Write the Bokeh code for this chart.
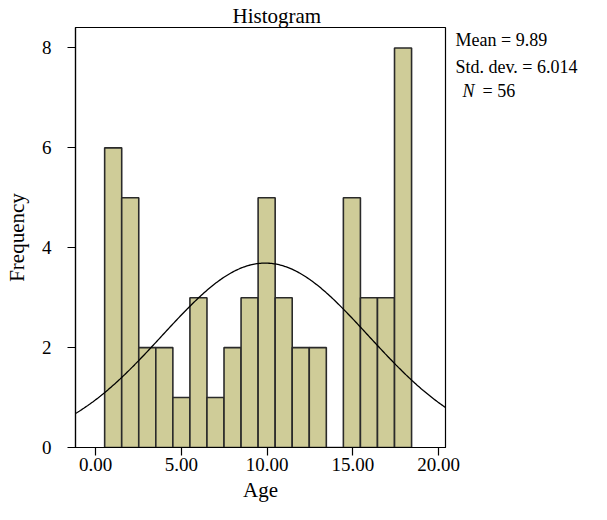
import math
from bokeh.plotting import figure
from bokeh.layouts import row
from bokeh.models import Range1d, FixedTicker, ColumnDataSource
from bokeh.core.properties import value
from bokeh.embed import file_html
from bokeh.resources import INLINE

# Data
bin_start = 0.53
bin_width = 0.994
counts = [6, 5, 2, 2, 1, 3, 1, 2, 3, 5, 3, 2, 2, 0, 5, 3, 3, 8]
mean_age = 9.89
sd_age = 6.014
n_total = 56
x_ticks = [0, 5, 10, 15, 20]
y_ticks = [0, 2, 4, 6, 8]
stat_texts = ["Mean = 9.89", "Std. dev. = 6.014", "= 56"]
stat_italic = ["N"]

FONT = "Liberation Serif"
H = 504
W_MAIN = 465
W_SIDE = 126
OVERLAP = 12
B_TOP, B_BOTTOM = 27, 56
FRAME_H = H - B_TOP - B_BOTTOM

lefts = [bin_start + i * bin_width for i in range(len(counts))]
rights = [l + bin_width for l in lefts]
src = ColumnDataSource(dict(left=lefts, right=rights, top=counts, bottom=[0] * len(counts)))

p = figure(width=W_MAIN, height=H, output_backend="svg", toolbar_location=None,
           x_range=Range1d(-1.17, 20.4), y_range=Range1d(0, 8.41),
           min_border_left=75, min_border_right=W_MAIN - 445, min_border_top=B_TOP,
           min_border_bottom=B_BOTTOM)

p.title.text = "Histogram"
p.title.align = "left"
p.title.text_font = FONT
p.title.text_font_size = "21px"
p.title.text_font_style = "normal"
p.title.text_color = "black"
p.title.standoff = 0
p.title.offset = 157

p.quad(left="left", right="right", top="top", bottom="bottom", source=src,
       fill_color="#CFCC98", line_color="#2a2a2a", line_width=1.6)

# Normal curve from the stated mean, sd and N (scaled by bin width)
xs = [-1.17 + i * (21.57 / 300) for i in range(301)]
ys = [n_total * bin_width / (sd_age * math.sqrt(2 * math.pi)) *
      math.exp(-((x - mean_age) ** 2) / (2 * sd_age ** 2)) for x in xs]
p.line(xs, ys, line_color="black", line_width=1.3)

p.grid.visible = False
p.outline_line_color = "black"
p.outline_line_width = 1.2

for ax in (p.xaxis[0], p.yaxis[0]):
    ax.axis_line_color = "black"
    ax.axis_line_width = 1.2
    ax.major_tick_line_color = "black"
    ax.major_tick_line_width = 1.2
    ax.major_tick_in = 0
    ax.major_tick_out = 8
    ax.minor_tick_line_color = None
    ax.major_label_text_font = FONT
    ax.major_label_text_font_size = "19px"
    ax.major_label_text_color = "black"
    ax.axis_label_text_font = FONT
    ax.axis_label_text_font_size = "21px"
    ax.axis_label_text_font_style = "normal"
    ax.axis_label_text_color = "black"

p.xaxis.ticker = FixedTicker(ticks=x_ticks)
p.xaxis.major_label_overrides = {t: f"{t:.2f}" for t in x_ticks}
p.xaxis.axis_label = "Age"
p.xaxis.major_label_standoff = 2
p.xaxis.axis_label_standoff = 4

p.yaxis.ticker = FixedTicker(ticks=y_ticks)
p.yaxis.axis_label = "Frequency"
p.yaxis.major_label_standoff = 16
p.yaxis.axis_label_standoff = 10

# Side panel with the summary statistics (y in pixels from the frame top)
side = figure(width=W_SIDE, height=H, output_backend="svg", toolbar_location=None,
              x_range=Range1d(0, W_SIDE), y_range=Range1d(FRAME_H, 0),
              x_axis_type=None, y_axis_type=None,
              min_border_left=0, min_border_right=0,
              min_border_top=B_TOP, min_border_bottom=B_BOTTOM)
side.grid.visible = False
side.outline_line_color = None
side.background_fill_alpha = 0
side.border_fill_alpha = 0
side.margin = (0, 0, 0, -OVERLAP)

x0 = 455 - (W_MAIN - OVERLAP)
side.text(x=[x0, x0, x0 + 27], y=[13, 40, 64], text=stat_texts,
          text_font=value(FONT), text_font_size="18px", text_color="black",
          text_baseline="middle", text_align="left")
side.text(x=[x0 + 7], y=[64], text=stat_italic,
          text_font=value(FONT), text_font_size="18px", text_font_style="italic",
          text_color="black", text_baseline="middle", text_align="left")

layout = row(p, side, spacing=0)
open("out.html", "w").write(file_html(layout, INLINE))
